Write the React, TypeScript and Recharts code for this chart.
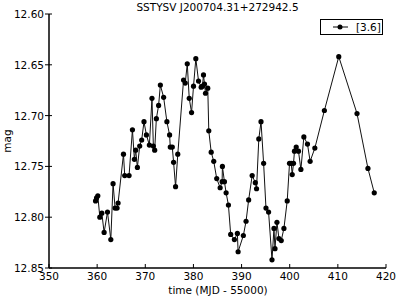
import React from "react";
import { LineChart, Line, XAxis, YAxis } from "recharts";

const times = [
  359.67, 359.88, 360.14, 360.56, 360.97, 361.45, 362.15, 362.84, 363.31, 363.73,
  364.14, 364.35, 365.47, 365.73, 366.63, 367.33, 367.74, 368.01, 368.36, 368.84,
  369.25, 369.73, 370.23, 370.85, 371.39, 371.68, 371.95, 372.3, 372.77, 373.13,
  373.81, 374.49, 375.05, 375.19, 375.61, 375.88, 376.29, 376.75, 377.95, 378.3,
  378.72, 379.13, 379.61, 380.02, 380.5, 381.06, 381.61, 381.88, 382.09, 382.3,
  382.51, 382.98, 383.19, 383.69, 384.22, 384.84, 385.55, 385.96, 386.02, 386.44,
  386.79, 387.27, 387.74, 388.51, 389.13, 389.28, 390.37, 390.93, 391.47, 392.2,
  392.86, 393.11, 393.58, 394.04, 394.58, 395.07, 395.61, 396.32, 396.73, 396.94,
  397.35, 397.76, 398.24, 398.8, 399.48, 399.96, 400.31, 400.52, 400.79, 400.99,
  401.35, 401.82, 402.32, 402.94, 403.69, 404.24, 405.22, 407.2, 410.19, 413.98,
  416.25, 417.56,
];

const mags = [
  12.784, 12.781, 12.779, 12.8, 12.796, 12.815, 12.795, 12.822, 12.767, 12.791,
  12.791, 12.786, 12.738, 12.759, 12.759, 12.714, 12.743, 12.734, 12.751, 12.73,
  12.724, 12.706, 12.719, 12.729, 12.683, 12.73, 12.734, 12.703, 12.69, 12.67,
  12.682, 12.706, 12.719, 12.731, 12.731, 12.746, 12.77, 12.738, 12.665, 12.668,
  12.649, 12.683, 12.697, 12.671, 12.644, 12.666, 12.672, 12.671, 12.66, 12.669,
  12.678, 12.673, 12.715, 12.736, 12.745, 12.762, 12.771, 12.765, 12.75, 12.765,
  12.776, 12.788, 12.817, 12.822, 12.816, 12.834, 12.818, 12.804, 12.783, 12.759,
  12.766, 12.772, 12.723, 12.706, 12.747, 12.791, 12.795, 12.842, 12.811, 12.831,
  12.805, 12.821, 12.823, 12.811, 12.784, 12.747, 12.747, 12.758, 12.747, 12.735,
  12.731, 12.735, 12.753, 12.721, 12.728, 12.745, 12.732, 12.695, 12.642, 12.698,
  12.752, 12.776,
];

const xTicks = [350, 360, 370, 380, 390, 400, 410, 420];
const yTicks = [12.6, 12.65, 12.7, 12.75, 12.8, 12.85];

const data = times.map((t, i) => ({ t, mag: mags[i] }));

const FONT = "DejaVu Sans, sans-serif";

function BottomTick(props: any) {
  const { x, y, payload } = props;
  return (
    <g>
      <line x1={x} x2={x} y1={y} y2={y - 4} stroke="#000" />
      <text x={x} y={y + 12} textAnchor="middle" fontSize={10.5} fontFamily={FONT} fill="#000">
        {payload.value}
      </text>
    </g>
  );
}

function LeftTick(props: any) {
  const { x, y, payload } = props;
  return (
    <g>
      <line x1={x - 4} x2={x + 3} y1={y} y2={y} stroke="#000" />
      <text x={x - 5} y={y + 4} textAnchor="end" fontSize={10.5} fontFamily={FONT} fill="#000">
        {payload.value.toFixed(2)}
      </text>
    </g>
  );
}

function TopTick(props: any) {
  const { x, y } = props;
  return <line x1={x} x2={x} y1={y} y2={y + 4} stroke="#000" />;
}

function RightTick(props: any) {
  const { x, y } = props;
  return <line x1={x} x2={x - 4} y1={y} y2={y} stroke="#000" />;
}

function LegendBox() {
  return (
    <div
      style={{
        position: "absolute",
        left: 320,
        top: 19,
        border: "1px solid #000",
        background: "#fff",
        width: 61,
        height: 14,
        display: "flex",
        alignItems: "center",
        fontFamily: FONT,
        fontSize: 10.5,
      }}
    >
      <svg width={33} height={14}>
        <line x1={12} x2={27} y1={7} y2={7} stroke="#000" />
        <circle cx={19} cy={7} r={2.5} fill="#000" />
      </svg>
      <span style={{ marginLeft: 2 }}>[3.6]</span>
    </div>
  );
}

export default function App() {
  return (
    <div style={{ position: "absolute", left: 0, top: 0, width: 399, height: 299, background: "#fff" }}>
      <div
        style={{
          position: "absolute",
          left: 49,
          width: 337,
          top: 0,
          textAlign: "center",
          fontFamily: FONT,
          fontSize: 10.5,
          lineHeight: "14px",
        }}
      >
        SSTYSV J200704.31+272942.5
      </div>
      <LineChart width={399} height={299} data={data} margin={{ top: 14, right: 13, left: 0, bottom: 0 }}>
        <XAxis
          xAxisId="b"
          dataKey="t"
          type="number"
          domain={[350, 420]}
          ticks={xTicks}
          height={31}
          tickSize={0}
          tickMargin={0}
          tick={<BottomTick />}
          axisLine={{ stroke: "#000", strokeWidth: 1.5 }}
          allowDataOverflow
          label={{
            content: () => (
              <text x={218} y={294} textAnchor="middle" fontSize={10.5} fontFamily={FONT} fill="#000">
                time (MJD - 55000)
              </text>
            ),
          }}
        />
        <XAxis
          xAxisId="t"
          dataKey="t"
          type="number"
          orientation="top"
          domain={[350, 420]}
          ticks={xTicks}
          height={0}
          tickSize={0}
          tickMargin={0}
          tick={<TopTick />}
          axisLine={{ stroke: "#000", strokeWidth: 1.5 }}
          allowDataOverflow
        />
        <YAxis
          yAxisId="l"
          type="number"
          domain={[12.6, 12.85]}
          reversed
          ticks={yTicks}
          width={49}
          tickSize={0}
          tickMargin={0}
          tick={<LeftTick />}
          axisLine={{ stroke: "#000", strokeWidth: 1.5 }}
          allowDataOverflow
          label={{
            content: () => (
              <text
                x={11}
                y={141}
                transform="rotate(-90, 11, 141)"
                textAnchor="middle"
                fontSize={10.5}
                fontFamily={FONT}
                fill="#000"
              >
                mag
              </text>
            ),
          }}
        />
        <YAxis
          yAxisId="r"
          type="number"
          orientation="right"
          domain={[12.6, 12.85]}
          reversed
          ticks={yTicks}
          width={0}
          tickSize={0}
          tickMargin={0}
          tick={<RightTick />}
          axisLine={{ stroke: "#000", strokeWidth: 1.5 }}
          allowDataOverflow
        />
        <Line
          xAxisId="b"
          yAxisId="l"
          dataKey="mag"
          name="[3.6]"
          stroke="#111"
          strokeWidth={1}
          dot={{ r: 2.6, fill: "#000", stroke: "#000", strokeWidth: 0 }}
          isAnimationActive={false}
        />
      </LineChart>
      <LegendBox />
    </div>
  );
}
